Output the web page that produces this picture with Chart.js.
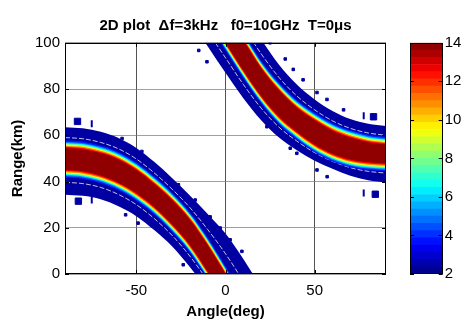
<!DOCTYPE html>
<html>
<head>
<meta charset="utf-8">
<script src="https://cdn.jsdelivr.net/npm/chart.js@4.4.1/dist/chart.umd.min.js"></script>
<style>
  body { margin: 0; background: #fff; }
  #wrap { position: relative; width: 465px; height: 322px; }
  #plot { position: absolute; left: 0; top: 0; }
  #cbar { position: absolute; left: 400px; top: 0; }
</style>
</head>
<body>
<div id="wrap">
  <canvas id="plot" width="400" height="322"></canvas>
  <canvas id="cbar" width="65" height="322"></canvas>
</div>
<script>
// edges of the two bands (range in km at each angle)
const lowAngles      = [-90, -80, -70, -60, -50, -40, -30, -20, -10, 0, 10, 20, 30];
const lowOuterTop    = [63.5, 63.0, 61.5, 58.8, 54.5, 48.5, 41.5, 34.0, 26.0, 17.5, 6.5, -6, -20];
const lowCoreTop     = [54.5, 54.0, 52.3, 49.5, 45.0, 39.0, 32.0, 23.5, 12.5, 0.0, -13, -27, -42];
const lowCoreBottom  = [45.0, 44.4, 42.6, 39.5, 35.0, 29.0, 21.5, 12.5, 1.0, -11.5, -25, -40, -55];
const lowOuterBottom = [34.3, 33.8, 32.3, 29.3, 25.0, 19.0, 12.0, 3.0, -7.0, -18, -30, -43, -57];

const upAngles      = [-30, -20, -10, 0, 10, 20, 30, 40, 50, 60, 70, 80, 90];
const upOuterTop    = [166, 152, 139, 126, 113, 101.5, 90.5, 82, 75.5, 70.5, 67, 65, 64];
const upCoreTop     = [148, 137, 124.5, 112, 101, 89, 79.5, 72, 66.5, 62, 59, 57, 56];
const upCoreBottom  = [133, 123, 111.5, 100, 88, 77, 68, 61.5, 56, 52, 49.5, 48.3, 47.8];
const upOuterBottom = [122, 110.5, 98.5, 87, 76, 66.5, 59, 53.5, 49, 45.5, 42.5, 40.5, 39.5];

// colour value of the core, of the outer rim, and of the soft steps between them
const coreValue = 13.8;
const outerValue = 2.4;
const stepValues  = [12.5, 11, 9.5, 8, 6.5, 5, 3.8];
const stepOffsets = [0.5, 1.0, 1.4, 1.8, 2.2, 2.7, 3.3]; // km outside the core edge

// loose specks and blobs around the bands
const speckAngles = [-58, -46.9, -26.4, -17, -8.6, -3, 2.6, 9.2, -23.7, -56, -49,
                     25, 33.5, 38, 43.5, 51.3, 56.9, 66.2, 36.3, 40, 57, 51.3, 23.2, -15, -10.4];
const speckRanges = [58.6, 53, 38.6, 32, 24.7, 19.9, 14.8, 9.8, 4, 25.6, 22,
                     100, 93, 88.5, 84, 78.5, 75.5, 71, 54.4, 52.2, 42.1, 45, 63.7, 96.7, 91.8];
const blobAngles = [-83, -82.5, 83, 84];
const blobRanges = [66, 31.5, 68, 34.5];
const barAngles = [-75, -75, 77.5, 77.5];
const barRanges = [65, 32, 68.5, 35];

const titleText = '2D plot  \u0394f=3kHz   f0=10GHz  T=0\u03bcs';
const cbarMin = 2, cbarMax = 14, cbarLevels = 32;

Chart.defaults.font.family = '"Liberation Sans", Arial, sans-serif';
Chart.defaults.color = '#000';

function jet(v) {
  const t = (v - cbarMin) / (cbarMax - cbarMin);
  const c = k => Math.round(255 * Math.max(0, Math.min(1, 1.5 - Math.abs(4 * t - k))));
  return 'rgb(' + c(3) + ',' + c(2) + ',' + c(1) + ')';
}

function pts(angles, ranges, shift) {
  return angles.map((a, i) => ({ x: a, y: ranges[i] + (shift || 0) }));
}

function edge(data, color, fill) {
  return {
    data: data, fill: fill ? '+1' : false, backgroundColor: color || 'rgba(0,0,0,0)',
    borderColor: 'rgba(0,0,0,0)', borderWidth: 0, pointRadius: 0,
    cubicInterpolationMode: 'monotone'
  };
}

function streak(data) {
  return {
    data: data, fill: false, borderColor: 'rgba(255,255,255,0.75)', borderWidth: 1,
    borderDash: [5, 2], pointRadius: 0, cubicInterpolationMode: 'monotone'
  };
}

// innermost first, so it ends up on top
function bandSets(angles, oT, cT, cB, oB) {
  const sets = [edge(pts(angles, cT), jet(coreValue), true), edge(pts(angles, cB))];
  for (let k = 0; k < stepValues.length; k++) {
    sets.push(edge(pts(angles, cT, stepOffsets[k]), jet(stepValues[k]), true));
    sets.push(edge(pts(angles, cB, -stepOffsets[k])));
  }
  const mid = (a, b) => a.map((v, i) => (v + b[i]) / 2);
  sets.push(streak(pts(angles, mid(cT, oT))), streak(pts(angles, mid(cB, oB))));
  sets.push(edge(pts(angles, oT), jet(outerValue), true), edge(pts(angles, oB)));
  return sets;
}

function marks(angles, ranges, style, radius, width, rot) {
  return {
    data: pts(angles, ranges), showLine: false, pointStyle: style, pointRadius: radius,
    pointRotation: rot || 0, pointBorderWidth: width,
    pointBackgroundColor: jet(outerValue), pointBorderColor: jet(outerValue)
  };
}

// box round the plot area plus the small inward ticks
const boxPlugin = {
  id: 'box',
  afterDraw(chart) {
    const { ctx, chartArea: a } = chart;
    ctx.save();
    ctx.strokeStyle = '#000';
    ctx.lineWidth = 1;
    ctx.strokeRect(Math.round(a.left) + 0.5, Math.round(a.top) + 0.5,
                   Math.round(a.width) - 1, Math.round(a.height) - 1);
    Object.values(chart.scales).forEach(s => {
      if (!s.options.display) return;
      s.ticks.forEach(t => {
        const p = Math.round(s.getPixelForValue(t.value)) + 0.5;
        ctx.beginPath();
        if (s.isHorizontal()) {
          ctx.moveTo(p, a.bottom); ctx.lineTo(p, a.bottom - 4);
          ctx.moveTo(p, a.top); ctx.lineTo(p, a.top + 4);
        } else {
          ctx.moveTo(a.left, p); ctx.lineTo(a.left + 4, p);
          ctx.moveTo(a.right, p); ctx.lineTo(a.right - 4, p);
        }
        ctx.stroke();
      });
    });
    ctx.restore();
  }
};

new Chart(document.getElementById('plot'), {
  type: 'line',
  data: {
    datasets: [
      marks(speckAngles, speckRanges, 'rect', 1.8, 1),
      marks(blobAngles, blobRanges, 'rect', 4.5, 1),
      marks(barAngles, barRanges, 'line', 3.5, 2, 90),
      ...bandSets(lowAngles, lowOuterTop, lowCoreTop, lowCoreBottom, lowOuterBottom),
      ...bandSets(upAngles, upOuterTop, upCoreTop, upCoreBottom, upOuterBottom)
    ]
  },
  options: {
    responsive: false,
    animation: false,
    devicePixelRatio: 1,
    layout: { padding: { left: 0, right: 14, top: 0, bottom: 0 } },
    plugins: {
      legend: { display: false },
      tooltip: { enabled: false },
      title: {
        display: true, text: titleText, fullSize: false,
        font: { size: 15, weight: 'bold' }, padding: { top: 17, bottom: 7.8 }
      }
    },
    scales: {
      x: {
        type: 'linear', min: -90, max: 90, z: 1,
        afterFit: s => { s.height = 48; },
        ticks: { stepSize: 50, includeBounds: false, padding: 8, font: { size: 15 } },
        grid: { color: 'rgba(40,40,40,0.8)', drawTicks: false },
        border: { display: false },
        title: { display: true, text: 'Angle(deg)', font: { size: 15, weight: 'bold' }, padding: { top: 0, bottom: 1 } }
      },
      y: {
        min: 0, max: 100, z: 1,
        afterFit: s => { s.width = 65; },
        ticks: { stepSize: 20, padding: 5, font: { size: 15 } },
        grid: { color: 'rgba(120,120,120,0.7)', drawTicks: false },
        border: { display: false },
        title: { display: true, text: 'Range(km)', font: { size: 15, weight: 'bold' }, padding: { top: 9, bottom: 0 } }
      }
    }
  },
  plugins: [boxPlugin]
});

// colour bar
const cbarSets = [];
const cbarStep = (cbarMax - cbarMin) / cbarLevels;
for (let i = 0; i < cbarLevels; i++) {
  const lo = cbarMin + i * cbarStep;
  cbarSets.push({
    data: [[lo, lo + cbarStep]], backgroundColor: jet(lo + cbarStep / 2),
    borderWidth: 0, barPercentage: 1, categoryPercentage: 1, grouped: false
  });
}

new Chart(document.getElementById('cbar'), {
  type: 'bar',
  data: { labels: [''], datasets: cbarSets },
  options: {
    responsive: false,
    animation: false,
    devicePixelRatio: 1,
    layout: { padding: { left: 10, top: 42.8, bottom: 48, right: 0 } },
    plugins: { legend: { display: false }, tooltip: { enabled: false } },
    scales: {
      x: { display: false },
      y: {
        position: 'right', min: cbarMin, max: cbarMax,
        afterFit: s => { s.width = 22.3; },
        ticks: { stepSize: 2, padding: 2, font: { size: 15 } },
        grid: { display: false, drawTicks: false },
        border: { display: false }
      }
    }
  },
  plugins: [boxPlugin]
});
</script>
</body>
</html>
